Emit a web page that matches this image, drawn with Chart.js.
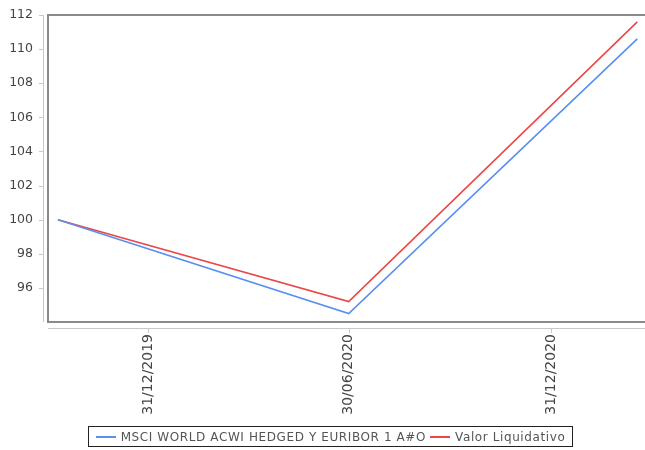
<!DOCTYPE html>
<html>
<head>
<meta charset="utf-8">
<script src="https://cdn.jsdelivr.net/npm/chart.js@4"></script>
<style>
  html, body { margin: 0; padding: 0; background: #fff; }
  #wrap { position: relative; width: 645px; height: 450px; overflow: hidden; }
  #legend {
    position: absolute; left: 88px; top: 426px; width: 483px; height: 19px;
    border: 1px solid #222; display: flex; align-items: center; justify-content: center;
    font-family: 'DejaVu Sans', sans-serif; font-size: 12px; letter-spacing: 0.6px;
    color: #555; white-space: nowrap;
  }
  #legend .item { display: flex; align-items: center; margin: 0 2px; }
  #legend .swatch { display: inline-block; width: 20px; height: 2px; margin-right: 5px; }
</style>
</head>
<body>
<div id="wrap">
  <canvas id="chart" width="645" height="450"></canvas>
  <div id="legend"></div>
</div>
<script>
// data
const pointDates = ['2019-10-10', '2020-06-30', '2021-03-19'];
const msciValues = [100, 94.5, 110.6];
const valorValues = [100, 95.2, 111.6];
const seriesNames = ['MSCI WORLD ACWI HEDGED Y EURIBOR 1 A#O', 'Valor Liquidativo'];
const seriesColors = ['#5a8ff0', '#ec4646'];
const tickDates = ['2019-12-31', '2020-06-30', '2020-12-31'];
const tickLabels = ['31/12/2019', '30/06/2020', '31/12/2020'];
const yTickValues = [96, 98, 100, 102, 104, 106, 108, 110, 112];

const FONT = "'DejaVu Sans', sans-serif";

// days since epoch, used as the linear x value
function toDay(s) {
  const [y, m, d] = s.split('-').map(Number);
  return Date.UTC(y, m - 1, d) / 86400000;
}

const xDays = pointDates.map(toDay);
const tickDays = tickDates.map(toDay);

// JFreeChart-like frame with offset axes
const framePlugin = {
  id: 'frame',
  afterDraw(chart) {
    const { ctx, chartArea: a } = chart;
    const xs = chart.scales.x, ys = chart.scales.y;
    ctx.save();
    // plot outline (top, left, bottom)
    ctx.strokeStyle = '#8a8a8a';
    ctx.lineWidth = 2;
    ctx.beginPath();
    ctx.moveTo(a.right + 5, a.top);
    ctx.lineTo(a.left, a.top);
    ctx.lineTo(a.left, a.bottom);
    ctx.lineTo(a.right + 5, a.bottom);
    ctx.stroke();
    // offset axis lines
    ctx.strokeStyle = '#c8c8c8';
    ctx.lineWidth = 1;
    ctx.beginPath();
    ctx.moveTo(a.left - 4.5, a.top);
    ctx.lineTo(a.left - 4.5, a.bottom);
    ctx.moveTo(a.left, a.bottom + 6.5);
    ctx.lineTo(a.right + 5, a.bottom + 6.5);
    ys.ticks.forEach(t => {
      const y = Math.round(ys.getPixelForValue(t.value)) + 0.5;
      ctx.moveTo(a.left - 9, y);
      ctx.lineTo(a.left - 4.5, y);
    });
    xs.ticks.forEach(t => {
      const x = Math.round(xs.getPixelForValue(t.value)) + 0.5;
      ctx.moveTo(x, a.bottom + 6.5);
      ctx.lineTo(x, a.bottom + 11);
    });
    ctx.stroke();
    ctx.restore();
  }
};

const ctx = document.getElementById('chart').getContext('2d');
new Chart(ctx, {
  type: 'line',
  data: {
    datasets: [
      {
        label: seriesNames[0],
        data: xDays.map((d, i) => ({ x: d, y: msciValues[i] })),
        borderColor: seriesColors[0],
        borderWidth: 1.6,
        pointRadius: 0,
        tension: 0
      },
      {
        label: seriesNames[1],
        data: xDays.map((d, i) => ({ x: d, y: valorValues[i] })),
        borderColor: seriesColors[1],
        borderWidth: 1.6,
        pointRadius: 0,
        tension: 0
      }
    ]
  },
  options: {
    responsive: false,
    animation: false,
    layout: { padding: { top: 15, right: 0, bottom: 0, left: 0 } },
    plugins: {
      legend: { display: false },
      tooltip: { enabled: false }
    },
    scales: {
      x: {
        type: 'linear',
        min: toDay('2019-10-01'),
        max: toDay('2021-03-26'),
        grid: { display: false, drawTicks: false },
        border: { display: false },
        afterFit: s => { s.height = 128; s.paddingLeft = 0; s.paddingRight = 0; },
        afterBuildTicks: s => { s.ticks = tickDays.map(v => ({ value: v })); },
        ticks: {
          autoSkip: false,
          minRotation: 90,
          maxRotation: 90,
          padding: 12,
          color: '#444',
          font: { family: FONT, size: 14 },
          callback: (v) => tickLabels[tickDays.indexOf(v)]
        }
      },
      y: {
        min: 94,
        max: 112,
        grid: { display: false, drawTicks: false },
        border: { display: false },
        afterFit: s => { s.width = 48; s.paddingTop = 0; s.paddingBottom = 0; },
        afterBuildTicks: s => { s.ticks = yTickValues.map(v => ({ value: v })); },
        ticks: {
          padding: 15,
          color: '#444',
          font: { family: FONT, size: 12.5 }
        }
      }
    }
  },
  plugins: [framePlugin]
});

// legend box under the plot
const legend = document.getElementById('legend');
seriesNames.forEach((name, i) => {
  const item = document.createElement('span');
  item.className = 'item';
  const sw = document.createElement('span');
  sw.className = 'swatch';
  sw.style.background = seriesColors[i];
  item.appendChild(sw);
  item.appendChild(document.createTextNode(name));
  legend.appendChild(item);
});
</script>
</body>
</html>
